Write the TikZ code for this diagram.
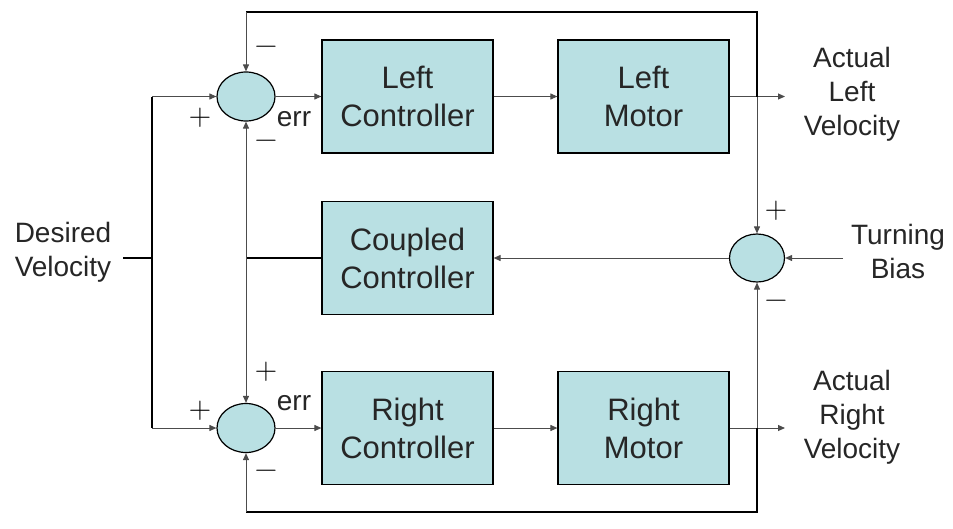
\documentclass[tikz,border=0pt]{standalone}
\usepackage{fontspec}
\setmainfont{Liberation Sans}
\usetikzlibrary{arrows.meta,shapes.geometric}
\definecolor{boxfill}{RGB}{185,224,227}
\begin{document}
\begin{tikzpicture}[x=1pt,y=-1pt,
  blk/.style={draw=black,line width=1.2pt,fill=boxfill,text=black!85,minimum width=171pt,minimum height=113pt,inner sep=0pt,align=center,font=\fontsize{31}{38}\selectfont},
  sumnode/.style={ellipse,draw=black,line width=1.2pt,fill=boxfill,inner sep=0pt},
  lbl/.style={align=center,text=black!85,font=\fontsize{28}{34}\selectfont,inner sep=0pt},
  sgn/.style={font={\fontsize{31}{31}\usefont{TU}{lmr}{m}{n}},inner sep=0pt},
  sig/.style={line width=1pt,draw=black!70,-{Triangle[length=7pt,width=6pt]}},
  wire/.style={line width=1pt,draw=black!70},
  outerline/.style={line width=1.3pt,draw=black}
]
\useasboundingbox (0,0) rectangle (953,528);
% blocks
\node[blk] (lc) at (407.5,96.5) {Left\\Controller};
\node[blk] (lm) at (643.5,96.5) {Left\\Motor};
\node[blk] (cc) at (407.5,258) {Coupled\\Controller};
\node[blk] (rc) at (407.5,428) {Right\\Controller};
\node[blk] (rm) at (643.5,428) {Right\\Motor};
% summing junctions
\node[sumnode,minimum width=58pt,minimum height=49pt] (ls) at (246,96.5) {};
\node[sumnode,minimum width=58pt,minimum height=49pt] (rs) at (246,428) {};
\node[sumnode,minimum width=55pt,minimum height=48pt] (ms) at (757,258) {};
% labels
\node[lbl] (dv) at (63,252) {Desired\\Velocity};
\node[lbl] (alv) at (852,94) {Actual\\Left\\Velocity};
\node[lbl] (arv) at (852,417) {Actual\\Right\\Velocity};
\node[lbl] (tb) at (898,251) {Turning\\Bias};
\node[lbl] (errl) at (294,119) {err};
\node[lbl] (errr) at (294,403) {err};
% signs
\node[sgn] (s1) at (200,118) {+};
\node[sgn] (s2) at (266,50) {−};
\node[sgn] (s3) at (266,144) {−};
\node[sgn] (s4) at (266,372) {+};
\node[sgn] (s5) at (200,411) {+};
\node[sgn] (s6) at (266,474) {−};
\node[sgn] (s7) at (776,211) {+};
\node[sgn] (s8) at (776,304) {−};
% coordinates
\coordinate (dvs) at (123,258);
\coordinate (dvj) at (152,258);
\coordinate (dvu) at (152,96.5);
\coordinate (dvd) at (152,428);
\coordinate (lout) at (785,96.5);
\coordinate (rout) at (785,428);
\coordinate (lbr) at (757,96.5);
\coordinate (rbr) at (757,428);
\coordinate (tl) at (246,12);
\coordinate (tr) at (757,12);
\coordinate (bl) at (246,512);
\coordinate (br) at (757,512);
\coordinate (cj) at (246,258);
\coordinate (tbs) at (843,258);
% desired velocity
\draw[outerline] (dvs) -- (dvj);
\draw[outerline] (dvu) -- (dvd);
\draw[sig] (dvu) -- (ls.west);
\draw[sig] (dvd) -- (rs.west);
% forward paths
\draw[sig] (ls.east) -- (lc.west);
\draw[sig] (lc.east) -- (lm.west);
\draw[sig] (lm.east) -- (lout);
\draw[sig] (rs.east) -- (rc.west);
\draw[sig] (rc.east) -- (rm.west);
\draw[sig] (rm.east) -- (rout);
% outer feedback loops
\draw[outerline] (lbr) -- (tr) -- (tl);
\draw[sig] (tl) -- (ls.north);
\draw[outerline] (rbr) -- (br) -- (bl);
\draw[sig] (bl) -- (rs.south);
% turning bias junction
\draw[sig] (lbr) -- (ms.north);
\draw[sig] (rbr) -- (ms.south);
\draw[sig] (tbs) -- (ms.east);
\draw[sig] (ms.west) -- (cc.east);
% coupled controller output
\draw[outerline] (cc.west) -- (cj);
\draw[sig] (cj) -- (ls.south);
\draw[sig] (cj) -- (rs.north);
\end{tikzpicture}
\end{document}
